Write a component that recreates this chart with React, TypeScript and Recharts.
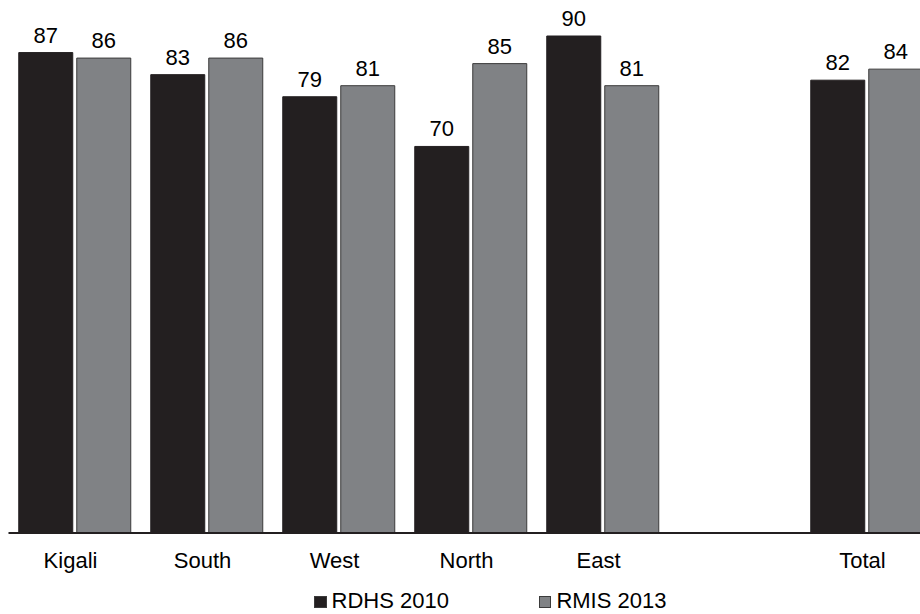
import { BarChart, Bar, XAxis, YAxis, LabelList, Legend } from 'recharts'

const categories = ['Kigali', 'South', 'West', 'North', 'East', '', 'Total']
const rdhs2010 = [87, 83, 79, 70, 90, null, 82]
const rmis2013 = [86, 86, 81, 85, 81, null, 84]

const DARK = '#231f20'
const GREY = '#808285'
const FONT = '"Liberation Sans", Arial, sans-serif'

const data = categories.map((name, i) => ({
  name,
  'RDHS 2010': rdhs2010[i],
  'RMIS 2013': rmis2013[i]
}))

// legend: small square sitting on the text baseline
const CustomLegend = ({ payload }: any) => (
  <div style={{ display: 'flex', alignItems: 'baseline', fontFamily: FONT, fontSize: 22, lineHeight: '25px', color: '#000' }}>
    {(payload || []).map((entry: any, index: number) => (
      <span
        key={index}
        style={{ display: 'flex', alignItems: 'baseline', marginRight: index === 0 ? 90 : 0 }}
      >
        <span
          style={{
            display: 'inline-block',
            width: 12.5,
            height: 12.5,
            marginRight: 5,
            boxSizing: 'border-box',
            backgroundColor: entry.color,
            border: '1px solid #3b3b3b'
          }}
        />
        {entry.value}
      </span>
    ))}
  </div>
)

export default function App() {
  return (
    <div style={{ position: 'absolute', left: 0, top: 0, width: 920, height: 614, overflow: 'hidden', background: '#fff' }}>
      {/* plot runs past the right edge, the Total group is cut like in the source */}
      <BarChart
        width={932.5}
        height={614}
        data={data}
        margin={{ top: 36, right: 0, left: 8.5, bottom: 0 }}
        barCategoryGap={10.25}
        barGap={4}
      >
        <XAxis
          dataKey="name"
          axisLine={{ stroke: DARK, strokeWidth: 2 }}
          tickLine={false}
          tickMargin={13}
          height={55}
          interval={0}
          tick={{ fill: '#000', fontSize: 22, fontFamily: FONT, dx: -4 }}
        />
        <YAxis hide domain={[0, 90]} />
        <Legend
          content={<CustomLegend />}
          wrapperStyle={{ position: 'absolute', left: 314, top: 588, width: 500, height: 26 }}
        />
        <Bar dataKey="RDHS 2010" fill={DARK} stroke={DARK} strokeWidth={1} isAnimationActive={false}>
          <LabelList dataKey="RDHS 2010" position="top" offset={10} fill="#000" fontSize={22} fontFamily={FONT} />
        </Bar>
        <Bar dataKey="RMIS 2013" fill={GREY} stroke="#3b3b3b" strokeWidth={1} isAnimationActive={false}>
          <LabelList dataKey="RMIS 2013" position="top" offset={10} fill="#000" fontSize={22} fontFamily={FONT} />
        </Bar>
      </BarChart>
    </div>
  )
}
